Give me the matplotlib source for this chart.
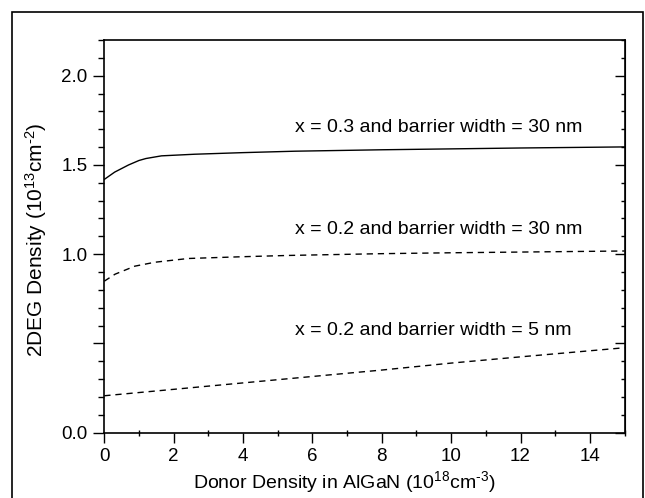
import matplotlib
matplotlib.use("Agg")
import matplotlib.pyplot as plt
from matplotlib.patches import Rectangle
from matplotlib.ticker import FixedLocator, FixedFormatter, MultipleLocator

plt.rcParams["font.family"] = ["Liberation Sans", "DejaVu Sans"]
plt.rcParams["mathtext.fontset"] = "custom"
plt.rcParams["mathtext.rm"] = "Liberation Sans"
plt.rcParams["mathtext.it"] = "Liberation Sans:italic"
plt.rcParams["mathtext.bf"] = "Liberation Sans:bold"

# Donor density (1e18 cm^-3) vs 2DEG density (1e13 cm^-2)
x_03_30 = [0, 0.3, 0.7, 1.0, 1.2, 1.65, 2.6, 4, 5.5, 8, 10, 12, 15]
n_03_30 = [1.419, 1.46, 1.50, 1.525, 1.536, 1.551, 1.56, 1.569, 1.577, 1.585, 1.59, 1.595, 1.601]

x_02_30 = [0, 0.31, 0.88, 1.46, 2.42, 4, 5.3, 8, 10, 12, 15]
n_02_30 = [0.849, 0.888, 0.933, 0.955, 0.976, 0.986, 0.993, 1.003, 1.008, 1.012, 1.018]

x_02_5 = [0, 2, 4, 6, 8, 10, 12, 15]
n_02_5 = [0.207, 0.243, 0.279, 0.315, 0.351, 0.39, 0.425, 0.476]

labels = ["x = 0.3 and barrier width = 30 nm",
          "x = 0.2 and barrier width = 30 nm",
          "x = 0.2 and barrier width = 5 nm"]

x_ticks = [0, 2, 4, 6, 8, 10, 12, 14]
y_ticks = [0.0, 0.5, 1.0, 1.5, 2.0]
y_tick_labels = ["0.0", "", "1.0", "1.5", "2.0"]

fig = plt.figure(figsize=(6.45, 4.98), dpi=100)
ax = fig.add_axes([0.1617, 0.1311, 0.8066, 0.7886])

# outer frame around the whole figure
fig.patches.append(Rectangle((12 / 645, -0.05), 631 / 645, 1.05 - 12 / 498,
                             transform=fig.transFigure, fill=False,
                             edgecolor="black", lw=1.2))

ax.plot(x_03_30, n_03_30, color="black", lw=1.0)
ax.plot(x_02_30, n_02_30, color="black", lw=1.0, dashes=(4.5, 3.5))
ax.plot(x_02_5, n_02_5, color="black", lw=1.0, dashes=(4.5, 3.5))

ax.text(5.5, 1.71, labels[0], fontsize=14, va="center", ha="left")
ax.text(5.5, 1.14, labels[1], fontsize=14, va="center", ha="left")
ax.text(5.5, 0.57, labels[2], fontsize=14, va="center", ha="left")

ax.set_xlim(0, 15)
ax.set_ylim(0, 2.2)

ax.xaxis.set_major_locator(FixedLocator(x_ticks))
ax.xaxis.set_minor_locator(MultipleLocator(1))
ax.yaxis.set_major_locator(FixedLocator(y_ticks))
ax.yaxis.set_major_formatter(FixedFormatter(y_tick_labels))
ax.yaxis.set_minor_locator(MultipleLocator(0.1))

ax.tick_params(axis="x", which="major", direction="out", length=7, width=1, labelsize=13.5, pad=4)
ax.tick_params(axis="x", which="minor", direction="inout", length=5, width=1)
ax.tick_params(axis="y", which="major", direction="out", length=8, width=1, labelsize=13.5, pad=4)
ax.tick_params(axis="y", which="minor", direction="out", length=4, width=1)

# mirrored inward ticks on the right spine
ay = ax.secondary_yaxis("right")
ay.yaxis.set_major_locator(FixedLocator(y_ticks))
ay.yaxis.set_minor_locator(MultipleLocator(0.1))
ay.tick_params(which="major", direction="in", length=7, width=1, labelright=False)
ay.tick_params(which="minor", direction="in", length=3, width=1)

for s in ax.spines.values():
    s.set_linewidth(1.2)

ax.set_xlabel(r"Donor Density in AlGaN (10$^{18}$cm$^{\text{-3}}$)", fontsize=14)
ax.xaxis.set_label_coords(0.462, -0.092)
ax.set_ylabel(r"2DEG Density (10$^{13}$cm$^{\text{-2}}$)", fontsize=15)
ax.yaxis.set_label_coords(-0.106, 0.49)

fig.savefig("out.png", dpi=100)
